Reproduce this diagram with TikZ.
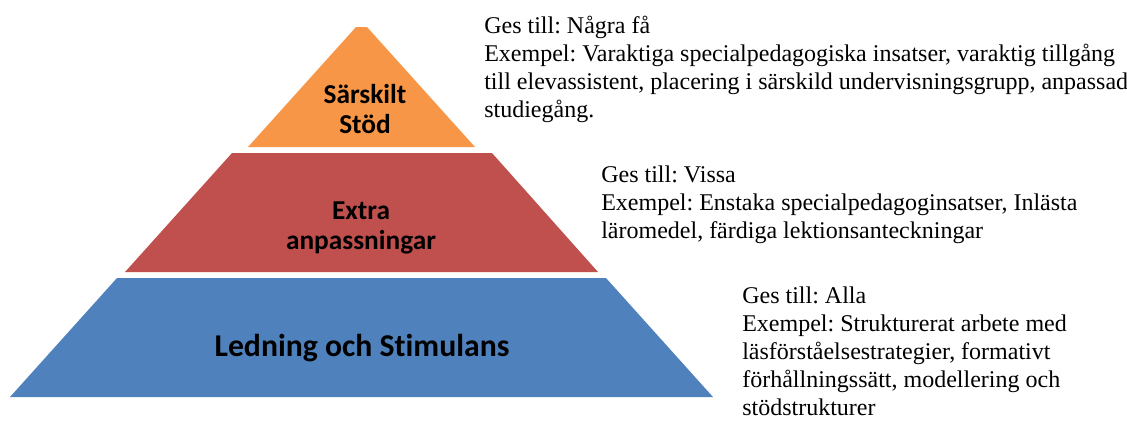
\documentclass[tikz,border=0pt]{standalone}
\usepackage{fontspec}
\setmainfont{Liberation Serif}
\newfontfamily\labelfont[Ligatures=NoCommon]{Carlito}
\usetikzlibrary{positioning}
\frenchspacing

\definecolor{layerorange}{HTML}{F79646}
\definecolor{layerred}{HTML}{C0504D}
\definecolor{layerblue}{HTML}{4F81BD}

\tikzset{
  level label/.style={font=\labelfont\bfseries\fontsize{20.5}{23}\selectfont, align=center, text=black, inner sep=0pt},
  info text/.style={anchor=north west, align=left, inner sep=0pt, font=\fontsize{18}{21}\selectfont},
}

\begin{document}
\begin{tikzpicture}[x=0.75pt,y=-0.75pt]
  \useasboundingbox (0,0) rectangle (1127,430);
  % Top layer: orange triangle
  \fill[layerorange] (248,147) -- (356,27) -- (367,27) -- (475,147) -- cycle;
  % Middle layer: red trapezoid
  \fill[layerred] (125,272) -- (232,153) -- (492,153) -- (598,272) -- cycle;
  % Bottom layer: blue trapezoid
  \fill[layerblue] (10,397) -- (117,278) -- (606,278) -- (713,397) -- cycle;
  % Layer labels
  \node[level label] (sarskilt) at (365,109) {Särskilt\\Stöd};
  \node[level label] (extra) at (361,228) {Extra\\anpassningar};
  \node[level label, font=\labelfont\bfseries\fontsize{23.8}{27}\selectfont] (ledning) at (362,348) {Ledning och Stimulans};
  % Descriptions beside the layers
  \node[info text] (info top) at (484,16) {Ges till: Några få\\
    Exempel: Varaktiga specialpedagogiska insatser, varaktig tillgång\\
    till elevassistent, placering i särskild undervisningsgrupp, anpassad\\
    studiegång.};
  \node[info text] (info mid) at (601,166) {Ges till: Vissa\\
    Exempel: Enstaka specialpedagoginsatser, Inlästa\\
    läromedel, färdiga lektionsanteckningar};
  \node[info text] (info low) at (742,287) {Ges till: Alla\\
    Exempel: Strukturerat arbete med\\
    läsförståelsestrategier, formativt\\
    förhållningssätt, modellering och\\
    stödstrukturer};
\end{tikzpicture}
\end{document}
